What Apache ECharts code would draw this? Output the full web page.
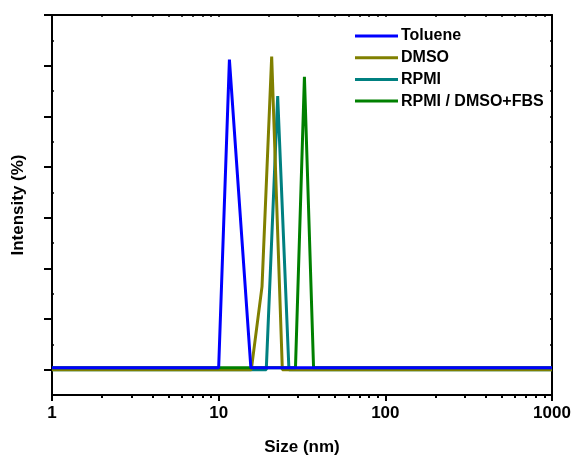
<!DOCTYPE html>
<html>
<head>
<meta charset="utf-8">
<script src="https://cdn.jsdelivr.net/npm/echarts@6/dist/echarts.min.js"></script>
<style>html,body{margin:0;padding:0;background:#fff}#c{width:573px;height:457px}</style>
</head>
<body>
<div id="c"></div>
<script>
// ---- data ----
var seriesNames = ['Toluene', 'DMSO', 'RPMI', 'RPMI / DMSO+FBS'];
var tolueneSize = [1, 10.0, 11.6, 15.6, 1000];
var tolueneIntensity = [0.2, 0.2, 30.6, 0.2, 0.2];
var dmsoSize = [1, 15.7, 18.2, 20.8, 24.1, 1000];
var dmsoIntensity = [0, 0, 8.2, 30.9, 0, 0];
var rpmiSize = [1, 19.3, 22.6, 26.4, 1000];
var rpmiIntensity = [0, 0, 27.0, 0, 0];
var fbsSize = [1, 28.9, 32.7, 37.1, 1000];
var fbsIntensity = [0.2, 0.2, 28.9, 0.2, 0.2];
var xTickLabels = ['1', '10', '100', '1000'];
var yMajorTicks = [0, 5, 10, 15, 20, 25, 30, 35];
var yMinorTicks = [2.5, 7.5, 12.5, 17.5, 22.5, 27.5, 32.5];
var xMinorTicks = [2, 3, 4, 5, 6, 7, 8, 9, 20, 30, 40, 50, 60, 70, 80, 90, 200, 300, 400, 500, 600, 700, 800, 900];

function pairs(xs, ys) { return xs.map(function (x, i) { return [x, ys[i]]; }); }
var logMinor = xMinorTicks.map(function (v) { return Math.log10(v); });
var logMajor = xTickLabels.map(function (v) { return Math.log10(+v); });

var FONT = 'Liberation Sans';
var chart = echarts.init(document.getElementById('c'), null, {renderer: 'canvas'});
var black = '#000';
chart.setOption({
  animation: false,
  backgroundColor: '#fff',
  grid: {left: 52, right: 21, top: 15, bottom: 62, containLabel: false, outerBoundsMode: 'none'},
  legend: {
    orient: 'vertical', left: 355, top: 28, padding: 0,
    icon: 'rect', itemWidth: 43, itemHeight: 3, itemGap: 5.7,
    data: seriesNames,
    textStyle: {fontFamily: FONT, fontWeight: 'bold', fontSize: 16, color: '#000', lineHeight: 16, padding: [0, 0, 0, -2]}
  },
  xAxis: [
    {
      type: 'log', logBase: 10, min: 1, max: 1000, position: 'bottom',
      axisLine: {show: true, onZero: false, lineStyle: {color: black, width: 2}},
      axisTick: {show: true, inside: false, length: 6, lineStyle: {color: black, width: 2}},
      axisLabel: {show: true, margin: 10, fontFamily: FONT, fontWeight: 'bold', fontSize: 17, color: black,
        formatter: function (v) { return String(Math.round(v)); }},
      splitLine: {show: false},
      name: 'Size (nm)', nameLocation: 'middle', nameGap: 44,
      nameTextStyle: {fontFamily: FONT, fontWeight: 'bold', fontSize: 17, color: black}
    },
    {
      type: 'value', min: 0, max: 3, position: 'bottom',
      axisLine: {show: false, onZero: false},
      axisTick: {show: true, inside: false, length: 3, customValues: logMinor, lineStyle: {color: black, width: 2}},
      axisLabel: {show: false}, splitLine: {show: false}
    },
    {
      type: 'value', min: 0, max: 3, position: 'top',
      axisLine: {show: true, onZero: false, lineStyle: {color: black, width: 2}},
      axisTick: {show: true, inside: true, length: 2, customValues: logMinor.concat(logMajor), lineStyle: {color: black, width: 1.5}},
      axisLabel: {show: false}, splitLine: {show: false}
    }
  ],
  yAxis: [
    {
      type: 'value', min: -2.5, max: 35, position: 'left',
      axisLine: {show: true, onZero: false, lineStyle: {color: black, width: 2}},
      axisTick: {show: true, inside: false, length: 8, customValues: yMajorTicks, lineStyle: {color: black, width: 2}},
      axisLabel: {show: false}, splitLine: {show: false},
      name: 'Intensity (%)', nameLocation: 'middle', nameGap: 25,
      nameTextStyle: {fontFamily: FONT, fontWeight: 'bold', fontSize: 17, color: black}
    },
    {
      type: 'value', min: -2.5, max: 35, position: 'left',
      axisLine: {show: false, onZero: false},
      axisTick: {show: true, inside: true, length: 2, customValues: yMinorTicks, lineStyle: {color: black, width: 1.5}},
      axisLabel: {show: false}, splitLine: {show: false}
    },
    {
      type: 'value', min: -2.5, max: 35, position: 'right',
      axisLine: {show: true, onZero: false, lineStyle: {color: black, width: 2}},
      axisTick: {show: true, inside: true, length: 2, customValues: yMajorTicks.concat(yMinorTicks), lineStyle: {color: black, width: 1.5}},
      axisLabel: {show: false}, splitLine: {show: false}
    }
  ],
  series: [
    {name: 'RPMI', type: 'line', data: pairs(rpmiSize, rpmiIntensity), symbol: 'none', color: '#008080', lineStyle: {width: 3}, z: 2},
    {name: 'DMSO', type: 'line', data: pairs(dmsoSize, dmsoIntensity), symbol: 'none', color: '#808000', lineStyle: {width: 3}, z: 3},
    {name: 'RPMI / DMSO+FBS', type: 'line', data: pairs(fbsSize, fbsIntensity), symbol: 'none', color: '#008000', lineStyle: {width: 3}, z: 4},
    {name: 'Toluene', type: 'line', data: pairs(tolueneSize, tolueneIntensity), symbol: 'none', color: '#0000ff', lineStyle: {width: 3}, z: 5}
  ]
});
</script>
</body>
</html>
